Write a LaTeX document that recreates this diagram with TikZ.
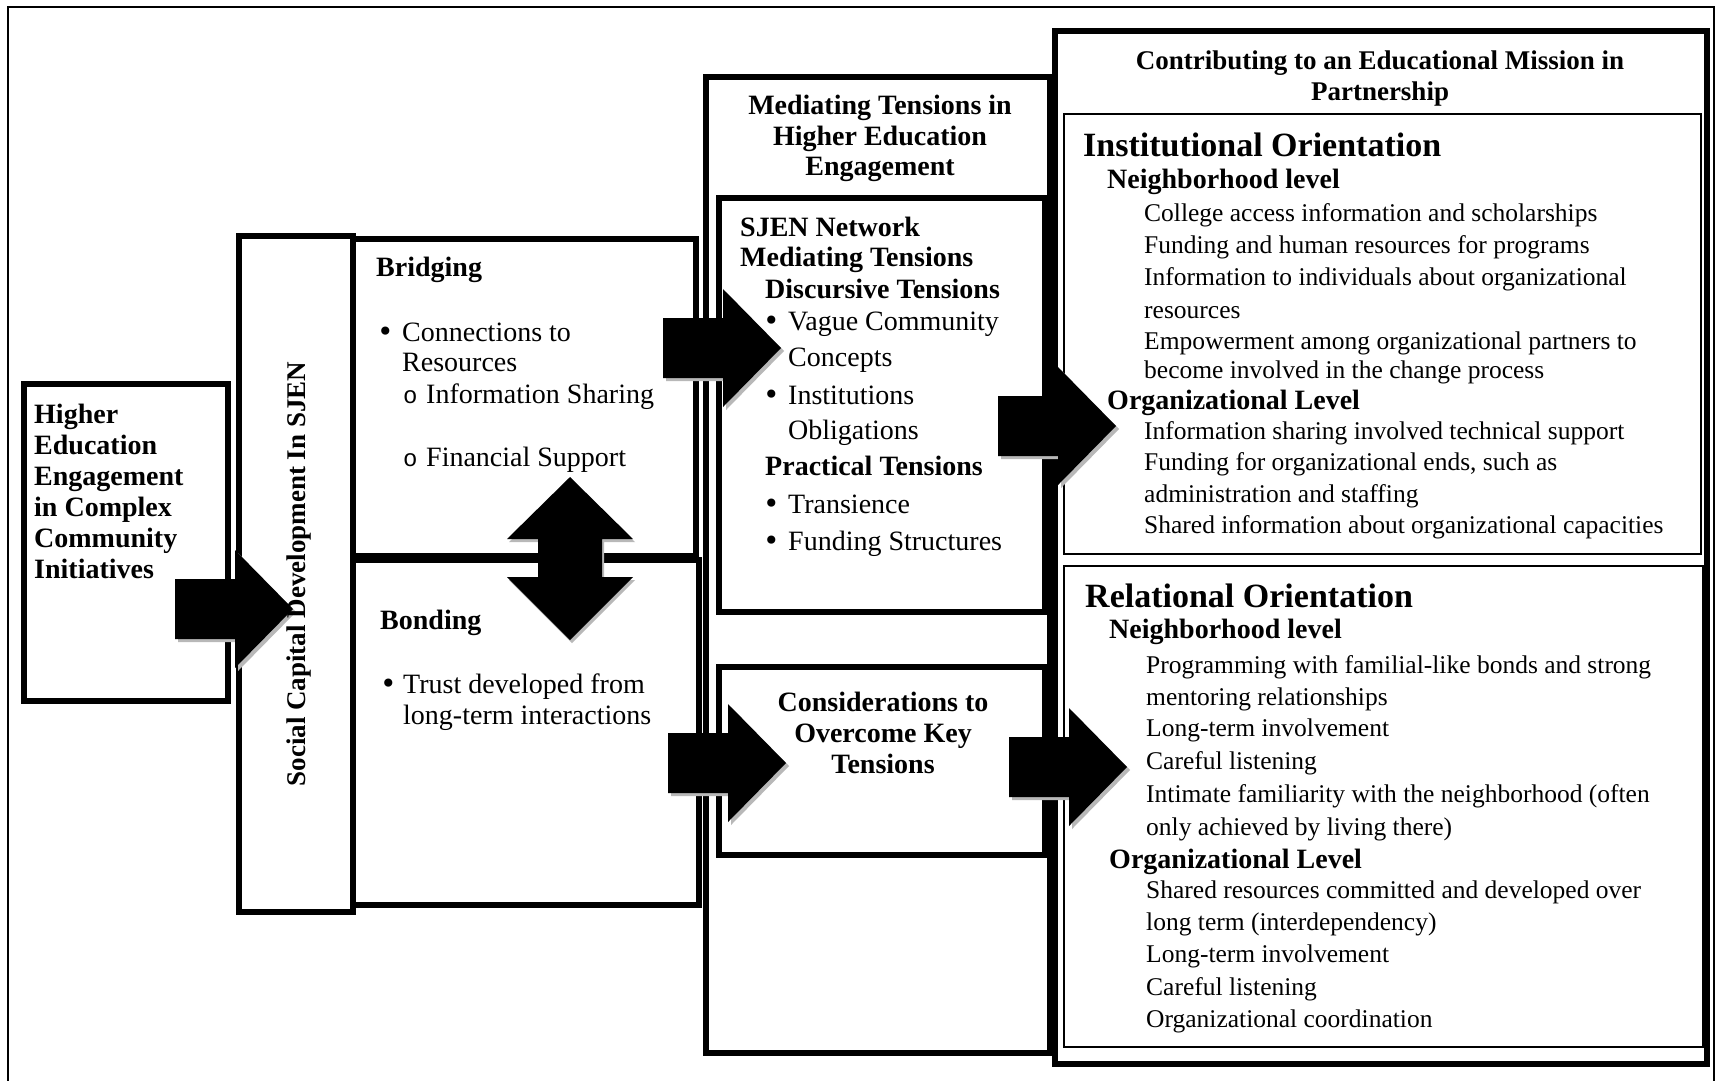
\documentclass[tikz,border=0pt]{standalone}
\usepackage{fontspec}
\setmainfont{Liberation Serif}
\newfontfamily\subbullet{Liberation Mono}
\newfontfamily\bulletfont{DejaVu Sans}
\usetikzlibrary{fit}

\tikzset{
  % heavy black outline of the main boxes
  frame/.style={draw, line width=6pt, fill=white, inner sep=0pt, outer sep=0pt},
  % lighter outline of the two orientation panels
  panel/.style={draw, line width=2.4pt, fill=white, inner sep=0pt, outer sep=0pt},
  % text styles: each line is its own node, placed by its left end or centre
  body/.style={anchor=west, inner sep=0pt, text height=22.4pt, text depth=5.6pt,
               font=\fontsize{28}{32}\selectfont},
  bullet/.style={body, font=\fontsize{28}{32}\selectfont\bulletfont},
  subbul/.style={body, font=\fontsize{24}{32}\selectfont\subbullet},
  head/.style={body, font=\fontsize{28}{32}\selectfont\bfseries},
  chead/.style={head, anchor=center},
  rbody/.style={anchor=west, inner sep=0pt, text height=20.4pt, text depth=5.1pt,
               font=\fontsize{25.5}{30}\selectfont},
  rhead/.style={anchor=west, inner sep=0pt, text height=22.4pt, text depth=5.6pt,
               font=\fontsize{28}{32}\selectfont\bfseries},
  rtitle/.style={anchor=west, inner sep=0pt, text height=27.2pt, text depth=6.8pt,
               font=\fontsize{34}{38}\selectfont\bfseries},
  shade/.style={fill=black!28},
  % right-pointing block arrow, placed at the left end of its shaft
  blockarrow/.pic={
    \fill[shade, shift={(3,3)}] (0,-30) -- (60,-30) -- (60,-59) -- (118,0) -- (60,59) -- (60,30) -- (0,30) -- cycle;
    \fill[black] (0,-30) -- (60,-30) -- (60,-59) -- (118,0) -- (60,59) -- (60,30) -- (0,30) -- cycle;
  },
  % vertical two-headed block arrow, placed at its centre
  updownarrow/.pic={
    \fill[shade, shift={(2,3)}] (0,-81.5) -- (63,-19.5) -- (32,-19.5) -- (32,18.5) -- (63,18.5) -- (0,81.5)
        -- (-63,18.5) -- (-32,18.5) -- (-32,-19.5) -- (-63,-19.5) -- cycle;
    \fill[black] (0,-81.5) -- (63,-19.5) -- (32,-19.5) -- (32,18.5) -- (63,18.5) -- (0,81.5)
        -- (-63,18.5) -- (-32,18.5) -- (-32,-19.5) -- (-63,-19.5) -- cycle;
  }
}

\begin{document}
\begin{tikzpicture}[x=1pt, y=-1pt]
\useasboundingbox (0,0) rectangle (1720,1080);
\fill[white] (0,0) rectangle (1720,1080);

% thin outer frame (its lower edge lies just below the page)
\begin{scope}
\clip (0,0) rectangle (1720,1080);
\node[draw, line width=1.6pt, inner sep=0pt, fit={(8,7) (1714,1084)}] (page) {};
\end{scope}

% ---------- boxes ----------
\node[frame, fit={(24,384) (228,701)}] (hee) {};
\node[frame, fit={(239,236) (353,912)}] (scd) {};
\node[frame, fit={(353,239) (696,556)}] (bridging) {};
\node[frame, fit={(353,560) (699,905)}] (bonding) {};

\node[frame, fit={(706,77) (1050,1053)}] (mediating) {};
\node[frame, fit={(719,198) (1045,612)}] (sjen) {};
\node[frame, fit={(719,667) (1045,855)}] (consider) {};

\node[frame, fit={(1055,31) (1707,1064)}] (mission) {};
\node[panel, fit={(1064,114) (1701,554)}] (institutional) {};
\node[panel, fit={(1064,566) (1703,1047)}] (relational) {};

% ---------- block arrows ----------
\pic (a1) at (175,609) {blockarrow};
\pic (a2) at (663,348) {blockarrow};
\pic (a3) at (668,763) {blockarrow};
\pic (a4) at (998,426) {blockarrow};
\pic (a5) at (1009,767) {blockarrow};
\pic (a6) at (570,558.5) {updownarrow};

% ---------- left column ----------
\node[head] (h1) at (34,415) {Higher};
\node[head] (h2) at (34,446) {Education};
\node[head] (h3) at (34,477) {Engagement};
\node[head] (h4) at (34,508) {in Complex};
\node[head] (h5) at (34,539) {Community};
\node[head] (h6) at (34,570) {Initiatives};

\node[chead, rotate=90, font=\fontsize{27}{30}\selectfont\bfseries] (scdtext) at (297,574)
  {Social Capital Development In SJEN};

\node[head] (br0) at (376,268) {Bridging};
\node[bullet] (br1b) at (377,333) {•};
\node[body] (br1) at (402,333) {Connections to};
\node[body] (br2) at (402,363) {Resources};
\node[subbul] (br3b) at (403,395) {o};
\node[body] (br3) at (426,395) {Information Sharing};
\node[subbul] (br4b) at (403,458) {o};
\node[body] (br4) at (426,458) {Financial Support};

\node[head] (bo0) at (380,621) {Bonding};
\node[bullet] (bo1b) at (380,685) {•};
\node[body] (bo1) at (403,685) {Trust developed from};
\node[body] (bo2) at (403,716) {long-term interactions};

% ---------- middle column ----------
\node[chead] (m1) at (880,106) {Mediating Tensions in};
\node[chead] (m2) at (880,137) {Higher Education};
\node[chead] (m3) at (880,167) {Engagement};

\node[head] (s1) at (740,228) {SJEN Network};
\node[head] (s2) at (740,258) {Mediating Tensions};
\node[head] (s3) at (765,290) {Discursive Tensions};
\node[bullet] (s4b) at (763,322) {•};
\node[body] (s4) at (788,322) {Vague Community};
\node[body] (s5) at (788,358) {Concepts};
\node[bullet] (s6b) at (763,396) {•};
\node[body] (s6) at (788,396) {Institutions};
\node[body] (s7) at (788,431) {Obligations};
\node[head] (s8) at (765,467) {Practical Tensions};
\node[bullet] (s9b) at (763,505) {•};
\node[body] (s9) at (788,505) {Transience};
\node[bullet] (s10b) at (763,542) {•};
\node[body] (s10) at (788,542) {Funding Structures};

\node[chead] (c1) at (883,703) {Considerations to};
\node[chead] (c2) at (883,734) {Overcome Key};
\node[chead] (c3) at (883,765) {Tensions};

% ---------- right column ----------
\node[chead, font=\fontsize{27}{30}\selectfont\bfseries] (t1) at (1380,61) {Contributing to an Educational Mission in};
\node[chead, font=\fontsize{27}{30}\selectfont\bfseries] (t2) at (1380,92) {Partnership};

\node[rtitle] (i0) at (1083,146) {Institutional Orientation};
\node[rhead] (i1) at (1107,180) {Neighborhood level};
\node[rbody] (i2) at (1144,214) {College access information and scholarships};
\node[rbody] (i3) at (1144,246) {Funding and human resources for programs};
\node[rbody] (i4) at (1144,278) {Information to individuals about organizational};
\node[rbody] (i5) at (1144,311) {resources};
\node[rbody] (i6) at (1144,342) {Empowerment among organizational partners to};
\node[rbody] (i7) at (1144,371) {become involved in the change process};
\node[rhead] (i8) at (1107,401) {Organizational Level};
\node[rbody] (i9) at (1144,432) {Information sharing involved technical support};
\node[rbody] (i10) at (1144,463) {Funding for organizational ends, such as};
\node[rbody] (i11) at (1144,495) {administration and staffing};
\node[rbody] (i12) at (1144,526) {Shared information about organizational capacities};

\node[rtitle] (r0) at (1085,597) {Relational Orientation};
\node[rhead] (r1) at (1109,630) {Neighborhood level};
\node[rbody] (r2) at (1146,666) {Programming with familial-like bonds and strong};
\node[rbody] (r3) at (1146,698) {mentoring relationships};
\node[rbody] (r4) at (1146,729) {Long-term involvement};
\node[rbody] (r5) at (1146,762) {Careful listening};
\node[rbody] (r6) at (1146,795) {Intimate familiarity with the neighborhood (often};
\node[rbody] (r7) at (1146,828) {only achieved by living there)};
\node[rhead] (r8) at (1109,860) {Organizational Level};
\node[rbody] (r9) at (1146,891) {Shared resources committed and developed over};
\node[rbody] (r10) at (1146,923) {long term (interdependency)};
\node[rbody] (r11) at (1146,955) {Long-term involvement};
\node[rbody] (r12) at (1146,988) {Careful listening};
\node[rbody] (r13) at (1146,1020) {Organizational coordination};
\end{tikzpicture}
\end{document}
